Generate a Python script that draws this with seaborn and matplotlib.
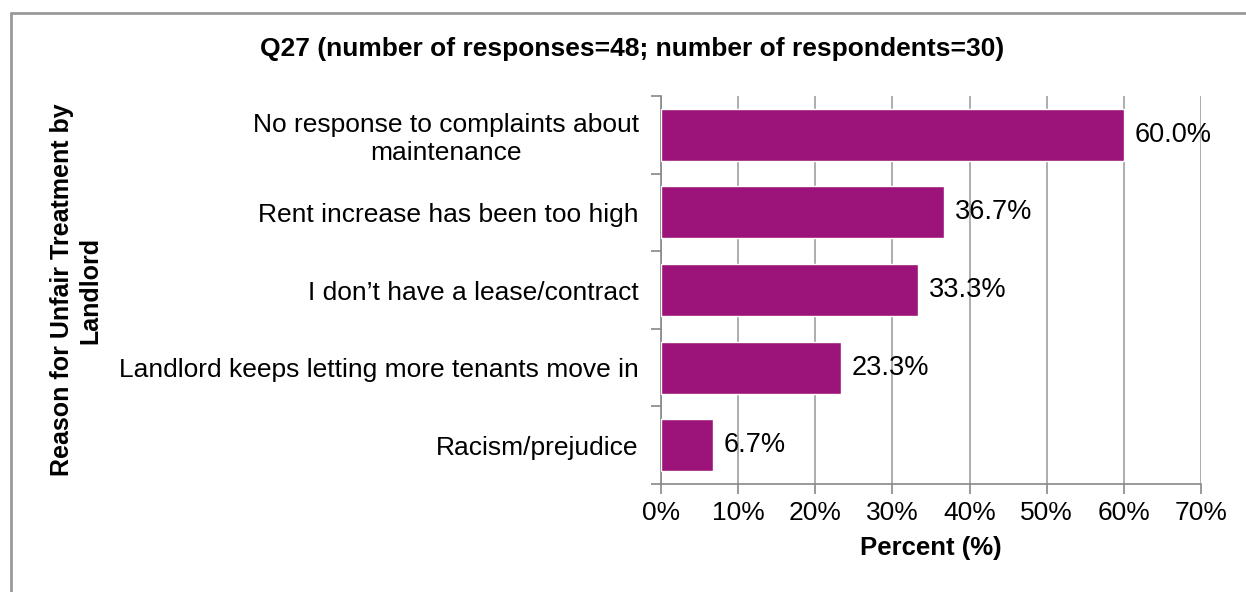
import matplotlib
matplotlib.use("Agg")
import matplotlib.pyplot as plt
from matplotlib.lines import Line2D
import seaborn as sns
import pandas as pd

reasons = [
    "No response to complaints about\nmaintenance",
    "Rent increase has been too high",
    "I don\u2019t have a lease/contract",
    "Landlord keeps letting more tenants move in",
    "Racism/prejudice",
]
percents = [60.0, 36.7, 33.3, 23.3, 6.7]
x_ticks = [0, 10, 20, 30, 40, 50, 60, 70]

df = pd.DataFrame({"reason": reasons, "percent": percents})

sns.set_theme(style="white")
plt.rcParams["font.family"] = ["Liberation Sans", "DejaVu Sans"]
plt.rcParams["text.color"] = "black"
plt.rcParams["xtick.color"] = "black"
plt.rcParams["ytick.color"] = "black"
plt.rcParams["axes.labelcolor"] = "black"

fig = plt.figure(figsize=(12.46, 5.92), dpi=100)
ax = fig.add_axes([0.5305, 0.1824, 0.4334, 0.6554])

sns.barplot(data=df, x="percent", y="reason", orient="h", color="#9C1379",
            width=0.67, saturation=1, ax=ax, zorder=3)

ax.set_xlim(0, 70)
ax.set_xticks(x_ticks)
ax.set_xticklabels([f"{t}%" for t in x_ticks], fontsize=19)
ax.set_ylim(4.5, -0.5)
ax.set_yticks([i - 0.5 for i in range(len(reasons) + 1)], minor=False)
ax.set_yticklabels([])
ax.set_yticks(range(len(reasons)), minor=True)
ax.set_yticklabels(reasons, minor=True, fontsize=19, multialignment="center")
ax.tick_params(axis="y", which="minor", length=0, pad=16)
ax.tick_params(axis="y", which="major", length=7, width=1.2, color="#888888", direction="out", left=True)
ax.tick_params(axis="x", length=7, width=1.2, color="#888888", labelcolor="black",
               direction="out", bottom=True, pad=5)

ax.grid(axis="x", color="#A0A0A0", linewidth=1.2, zorder=0)
for side in ["top", "right"]:
    ax.spines[side].set_visible(False)
for side in ["left", "bottom"]:
    ax.spines[side].set_color("#888888")
    ax.spines[side].set_linewidth(1.2)

for i, v in enumerate(percents):
    ax.text(v + 1.4, i, f"{v:.1f}%", va="center", ha="left", fontsize=19.5, zorder=4)

ax.set_xlabel("Percent (%)", fontsize=18.5, fontweight="bold", labelpad=8)
ax.set_ylabel("")
fig.text(0.061, 0.51, "Reason for Unfair Treatment by\nLandlord", rotation=90,
         ha="center", va="center", fontsize=18, fontweight="bold", multialignment="center")
fig.text(0.507, 0.918, "Q27 (number of responses=48; number of respondents=30)",
         ha="center", va="center", fontsize=19, fontweight="bold")

# outer frame (left and top edges)
fig.add_artist(Line2D([0.0085, 0.0085], [0, 0.978], color="#999999", linewidth=2, transform=fig.transFigure))
fig.add_artist(Line2D([0.0085, 1.0], [0.978, 0.978], color="#999999", linewidth=2, transform=fig.transFigure))

fig.savefig("out.png", dpi=100, facecolor="white")
